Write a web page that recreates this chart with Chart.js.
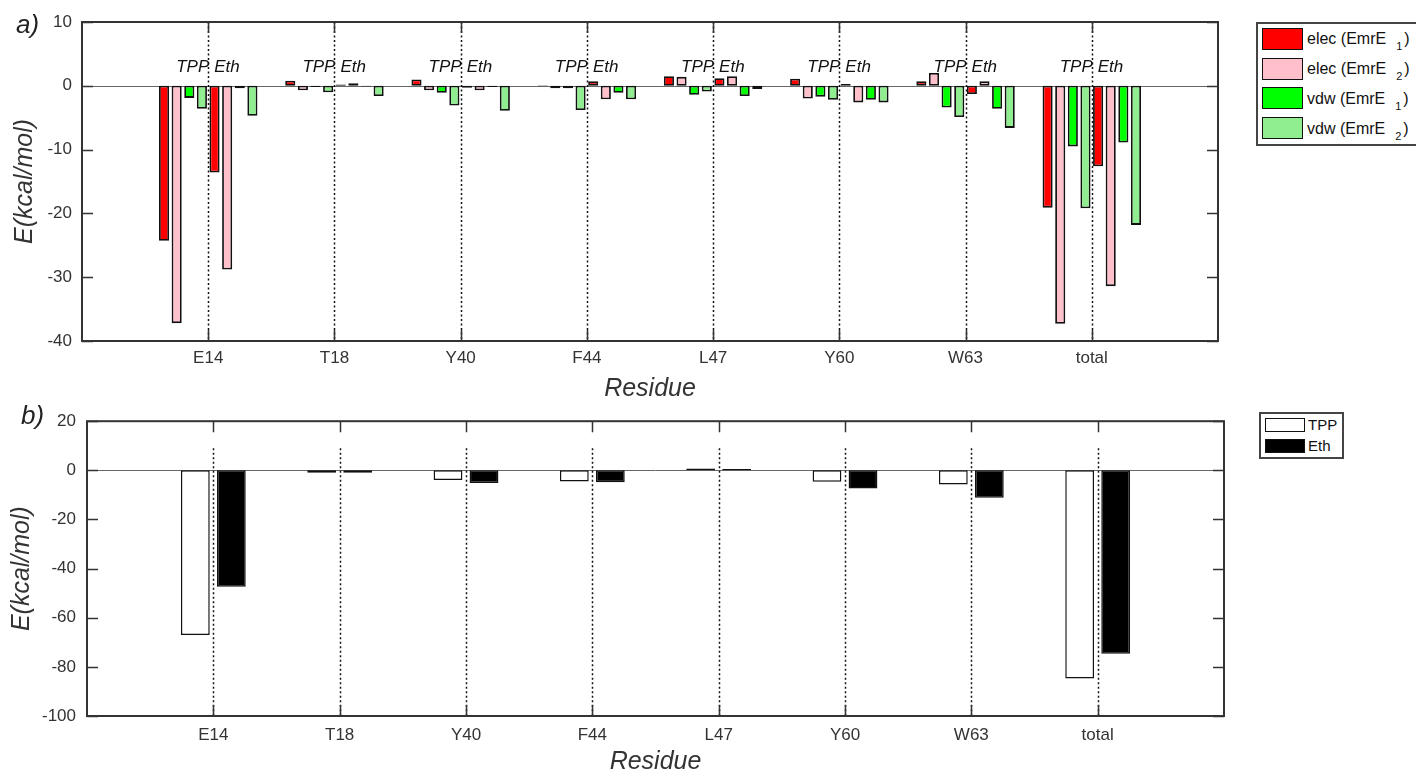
<!DOCTYPE html>
<html>
<head>
<meta charset="utf-8">
<script src="https://cdn.jsdelivr.net/npm/chart.js@4.4.1/dist/chart.umd.min.js"></script>
<style>
  html, body { margin: 0; padding: 0; background: #fff; overflow: hidden; }
  body { width: 1416px; height: 772px; position: relative; font-family: "Liberation Sans", Arial, sans-serif; color: #222; }
  canvas { position: absolute; left: 0; }
  #chartA { top: 0; }
  #chartB { top: 400px; }
  .tag { position: absolute; font-style: italic; font-size: 26px; line-height: 30px; color: #222; z-index: 2; }
  .legend { position: absolute; border: 2px solid #444; background: #fff; box-sizing: border-box; z-index: 2; }
  .sw { position: absolute; box-sizing: border-box; border: 1.5px solid #111; z-index: 3; }
  .lt { position: absolute; z-index: 3; white-space: nowrap; color: #111; }
  .lt .sb { font-size: 11px; position: relative; top: 6px; margin-left: 10px; margin-right: 2px; }
</style>
</head>
<body>
<div class="tag" style="left:16px; top:9px;">a)</div>
<div class="tag" style="left:21px; top:400px;">b)</div>
<canvas id="chartA" width="1416" height="404"></canvas>
<canvas id="chartB" width="1416" height="377"></canvas>
<div id="legends"></div>
<script>
// residues on the x axis, plus the two group names drawn above each one
const residues = ['E14', 'T18', 'Y40', 'F44', 'L47', 'Y60', 'W63', 'total'];
const groupNames = ['TPP', 'Eth'];

// panel a) components (kcal/mol), TPP group then Eth group
const elecTPP1 = [-24.3, 0.8, 1.0, 0.1, 1.5, 1.1, 0.7, -19.1];
const elecTPP2 = [-37.2, -0.7, -0.7, -0.4, 1.4, -2.0, 2.0, -37.3];
const vdwTPP1 = [-1.9, -0.2, -1.1, -0.4, -1.4, -1.7, -3.4, -9.5];
const vdwTPP2 = [-3.6, -1.0, -3.1, -3.8, -0.9, -2.2, -4.9, -19.2];
const elecEth1 = [-13.6, 0.2, -0.3, 0.7, 1.2, 0.3, -1.3, -12.6];
const elecEth2 = [-28.8, 0.4, -0.7, -2.1, 1.5, -2.6, 0.7, -31.4];
const vdwEth1 = [-0.4, -0.1, -0.2, -1.1, -1.6, -2.2, -3.6, -8.9];
const vdwEth2 = [-4.7, -1.6, -3.9, -2.1, -0.5, -2.6, -6.6, -21.8];

// panel b) totals
const totalTPP = [-67.0, -1.0, -3.9, -4.5, 0.7, -4.6, -5.8, -84.7];
const totalEth = [-47.4, -1.0, -5.2, -4.8, 0.5, -7.4, -11.2, -74.7];

// legend text: [label, subscript]
const legendA = [['elec (EmrE', '1'], ['elec (EmrE', '2'], ['vdw (EmrE', '1'], ['vdw (EmrE', '2']];
const legendB = ['TPP', 'Eth'];

const FONT = '"Liberation Sans", Arial, sans-serif';
Chart.defaults.font.family = FONT;
Chart.defaults.color = '#333';

// empty slot on each side so residues sit at 1..8 of a 0..9 axis
const xLabels = [''].concat(residues, ['']);
const pad = arr => [null].concat(arr, [null]);

const colA = ['#ff0000', '#ffc0cb', '#00ff00', '#90ee90'];
const colB = ['#ffffff', '#000000'];

// frame, dotted separators, inward ticks and group labels
const frame = {
  id: 'frame',
  beforeDatasetsDraw(chart, args, opts) {
    const { ctx, chartArea: a, scales: { y } } = chart;
    const y0 = Math.round(y.getPixelForValue(0)) + 0.5;
    ctx.save();
    ctx.strokeStyle = '#666';
    ctx.lineWidth = 1;
    ctx.beginPath();
    ctx.moveTo(a.left, y0);
    ctx.lineTo(a.right, y0);
    ctx.stroke();
    ctx.restore();
  },
  afterDatasetsDraw(chart, args, opts) {
    const { ctx, chartArea: a, scales: { x, y } } = chart;
    const tl = 11;
    ctx.save();
    // dotted lines at each residue
    ctx.strokeStyle = '#111';
    ctx.lineWidth = 1.5;
    ctx.setLineDash([2, 2.5]);
    const dotTop = opts.dotFrom == null ? a.top : y.getPixelForValue(opts.dotFrom);
    residues.forEach((r, i) => {
      const px = Math.round(x.getPixelForValue(i + 1)) + 0.5;
      ctx.beginPath();
      ctx.moveTo(px, dotTop);
      ctx.lineTo(px, a.bottom);
      ctx.stroke();
    });
    ctx.setLineDash([]);

    // inward ticks on all four sides
    ctx.strokeStyle = '#333';
    ctx.lineWidth = 1.5;
    residues.forEach((r, i) => {
      const px = Math.round(x.getPixelForValue(i + 1)) + 0.5;
      ctx.beginPath();
      ctx.moveTo(px, a.top); ctx.lineTo(px, a.top + tl);
      ctx.moveTo(px, a.bottom); ctx.lineTo(px, a.bottom - tl);
      ctx.stroke();
    });
    y.ticks.forEach(t => {
      const py = Math.round(y.getPixelForValue(t.value)) + 0.5;
      ctx.beginPath();
      ctx.moveTo(a.left, py); ctx.lineTo(a.left + tl, py);
      ctx.moveTo(a.right, py); ctx.lineTo(a.right - tl, py);
      ctx.stroke();
    });

    // box
    ctx.lineWidth = 2;
    ctx.strokeStyle = '#333';
    ctx.strokeRect(a.left, a.top, a.right - a.left, a.bottom - a.top);

    // TPP / Eth labels
    if (opts.groupLabelAt != null) {
      ctx.font = 'italic 17px ' + FONT;
      ctx.fillStyle = '#111';
      ctx.textBaseline = 'middle';
      const py = y.getPixelForValue(opts.groupLabelAt);
      residues.forEach((r, i) => {
        const px = x.getPixelForValue(i + 1);
        ctx.textAlign = 'right';
        ctx.fillText(groupNames[0], px + 1, py);
        ctx.textAlign = 'left';
        ctx.fillText(groupNames[1], px + 6, py);
      });
    }
    ctx.restore();
  }
};

function axes(o) {
  return {
    x: {
      type: 'category', labels: xLabels, offset: false,
      grid: { display: false, drawTicks: false }, border: { display: false },
      ticks: { autoSkip: false, maxRotation: 0, padding: o.xPad, color: '#333', font: { size: 17 } },
      title: { display: true, text: 'Residue', color: '#333', font: { size: 25, style: 'italic' }, padding: { top: 0, bottom: 0 } },
      afterFit(s) { s.height = o.xH; }
    },
    y: {
      min: o.min, max: o.max,
      grid: { display: false, drawTicks: false }, border: { display: false },
      ticks: { stepSize: o.step, padding: o.yPad, color: '#333', font: { size: 17 } },
      title: { display: true, text: 'E(kcal/mol)', color: '#333', font: { size: 25, style: 'italic' }, padding: { top: o.yTitlePad, bottom: 0 } },
      afterFit(s) { s.width = o.yW; }
    }
  };
}

const seriesA = [elecTPP1, elecTPP2, vdwTPP1, vdwTPP2, elecEth1, elecEth2, vdwEth1, vdwEth2];

new Chart(document.getElementById('chartA'), {
  type: 'bar',
  data: {
    labels: xLabels,
    datasets: seriesA.map((s, i) => ({
      data: pad(s),
      backgroundColor: colA[i % 4],
      borderColor: '#111',
      borderWidth: 1.8,
      borderSkipped: false,
      categoryPercentage: 0.8,
      barPercentage: 0.8
    }))
  },
  options: {
    responsive: false,
    animation: false,
    layout: { padding: { top: 22, right: 198, left: 0, bottom: 0 } },
    plugins: { legend: { display: false }, tooltip: { enabled: false }, frame: { groupLabelAt: 2.9 } },
    scales: axes({ min: -40, max: 10, step: 10, xPad: 7, xH: 63, yPad: 10, yW: 82, yTitlePad: 10 })
  },
  plugins: [frame]
});

new Chart(document.getElementById('chartB'), {
  type: 'bar',
  data: {
    labels: xLabels,
    datasets: [totalTPP, totalEth].map((s, i) => ({
      data: pad(s),
      backgroundColor: colB[i],
      borderColor: '#111',
      borderWidth: 1.5,
      borderSkipped: false,
      categoryPercentage: 0.57,
      barPercentage: 0.8
    }))
  },
  options: {
    responsive: false,
    animation: false,
    layout: { padding: { top: 12, right: 192, left: 0, bottom: 0 } },
    plugins: { legend: { display: false }, tooltip: { enabled: false }, frame: { dotFrom: 9 } },
    scales: axes({ min: -100, max: 20, step: 20, xPad: 9, xH: 61, yPad: 11, yW: 87, yTitlePad: 7 })
  },
  plugins: [frame]
});

// legends
const host = document.getElementById('legends');
function box(l, t, w, h) {
  const d = document.createElement('div');
  d.className = 'legend';
  Object.assign(d.style, { left: l + 'px', top: t + 'px', width: w + 'px', height: h + 'px' });
  host.appendChild(d);
}
function item(l, t, w, h, color, html, tx, size) {
  const s = document.createElement('div');
  s.className = 'sw';
  Object.assign(s.style, { left: l + 'px', top: t + 'px', width: w + 'px', height: h + 'px', background: color });
  host.appendChild(s);
  const txt = document.createElement('div');
  txt.className = 'lt';
  Object.assign(txt.style, { left: tx + 'px', top: (t + h / 2 - size * 0.6) + 'px', fontSize: size + 'px', lineHeight: (size * 1.2) + 'px' });
  txt.innerHTML = html;
  host.appendChild(txt);
}
box(1256, 22, 180, 124);
legendA.forEach(([main, sub], i) => {
  item(1262, 28 + i * 29.7, 41, 22, colA[i], main + '<span class="sb">' + sub + '</span>)', 1307, 16);
});
box(1259, 412, 85, 47);
legendB.forEach((lab, i) => {
  item(1265, 418 + i * 21, 40, 14, colB[i], lab, 1308, 15);
});
</script>
</body>
</html>
